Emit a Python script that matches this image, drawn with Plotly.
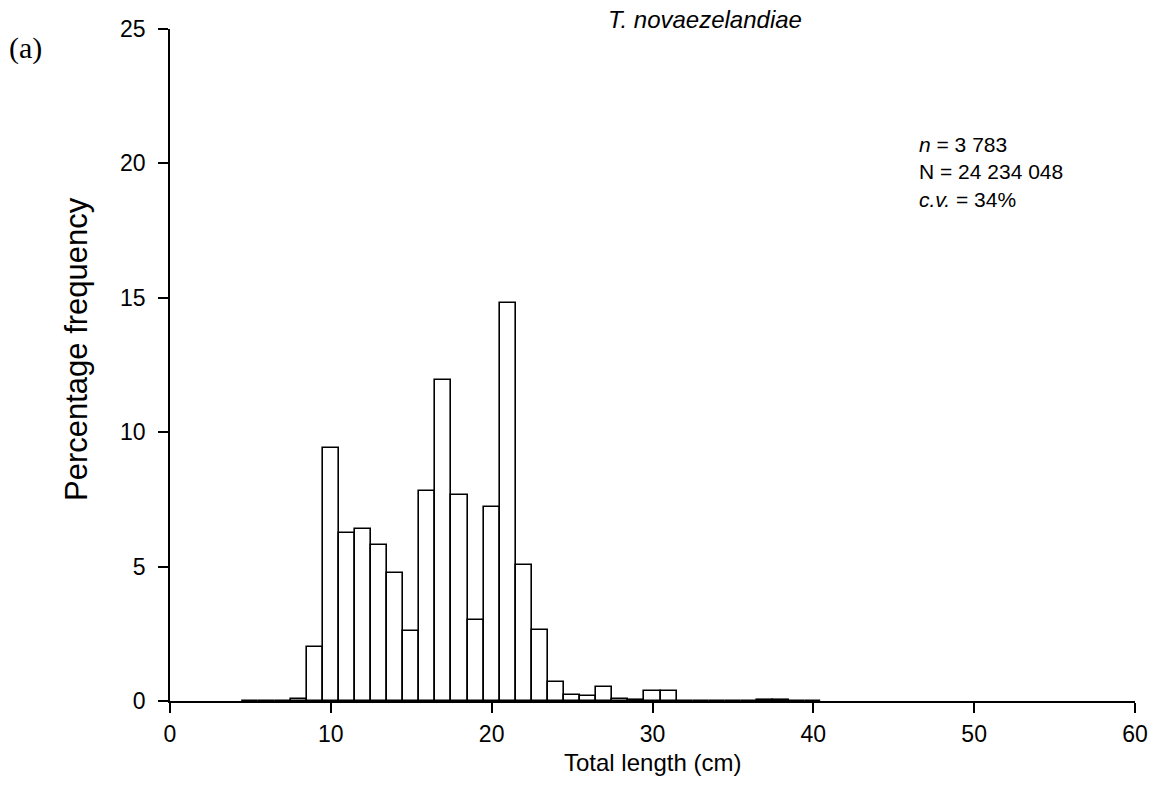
import plotly.graph_objects as go

# Length classes (cm) and percentage frequency
lengths = list(range(5, 41))
percent = [0.01, 0.01, 0.01, 0.06, 2.0, 9.4, 6.25, 6.4, 5.8, 4.75,
           2.6, 7.8, 11.95, 7.65, 3.0, 7.22, 14.82, 5.05, 2.65, 0.69,
           0.22, 0.19, 0.51, 0.07, 0.04, 0.36, 0.36, 0.0, 0.0, 0.0,
           0.0, 0.0, 0.03, 0.03, 0.0, 0.0]

x_ticks = [0, 10, 20, 30, 40, 50, 60]
y_ticks = [0, 5, 10, 15, 20, 25]

species = "T. novaezelandiae"
panel = "(a)"
stats_lines = ["<i>n</i> = 3 783", "N = 24 234 048", "<i>c.v.</i> = 34%"]

W, H = 1159, 785
L, R, T, B = 170, 24, 29, 84

fig = go.Figure()
fig.add_trace(go.Bar(
    x=lengths, y=percent, width=1.0,
    marker=dict(color="white", line=dict(color="black", width=1.6)),
    showlegend=False,
))

font_main = "Liberation Sans, Arial, sans-serif"

fig.update_layout(
    width=W, height=H,
    margin=dict(l=L, r=R, t=T, b=B, pad=0, autoexpand=False),
    paper_bgcolor="white", plot_bgcolor="white",
    bargap=0,
    font=dict(family=font_main, color="black", size=23),
    xaxis=dict(range=[0, 60], tickvals=x_ticks, ticks="outside", ticklen=10,
               tickwidth=1.5, tickcolor="black", showline=True, linecolor="black",
               linewidth=1.5, showgrid=False, zeroline=False,
               tickfont=dict(size=23), ticklabelstandoff=2),
    yaxis=dict(range=[0, 25], tickvals=y_ticks, ticks="outside", ticklen=10,
               tickwidth=1.5, tickcolor="black", showline=True, linecolor="black",
               linewidth=1.5, showgrid=False, zeroline=False,
               tickfont=dict(size=23), ticklabelstandoff=8),
)

pw = W - L - R
ph = H - T - B

def px(xp):
    return (xp - L) / pw

def py(yp):
    return (H - B - yp) / ph

annotations = [
    dict(text="<i>" + species + "</i>", x=px(606), y=py(19), xanchor="left",
         yanchor="middle", font=dict(size=24)),
    dict(text=panel, x=px(7), y=py(48), xanchor="left", yanchor="middle",
         font=dict(size=30, family="Liberation Serif, Times New Roman, serif")),
    dict(text="<br>".join(stats_lines), x=px(917), y=py(172), xanchor="left",
         yanchor="middle", align="left", font=dict(size=21)),
    dict(text="Total length (cm)", x=0.5, y=py(763), xanchor="center",
         yanchor="middle", font=dict(size=24)),
    dict(text="Percentage frequency", x=px(76), y=py(349), xanchor="center",
         yanchor="middle", textangle=-90, font=dict(size=31)),
]
for a in annotations:
    a.update(xref="paper", yref="paper", showarrow=False)
fig.update_layout(annotations=annotations)

fig.write_html("out.html", config={"displayModeBar": False},
               post_script="document.body.style.margin='0';document.body.style.padding='0';")
